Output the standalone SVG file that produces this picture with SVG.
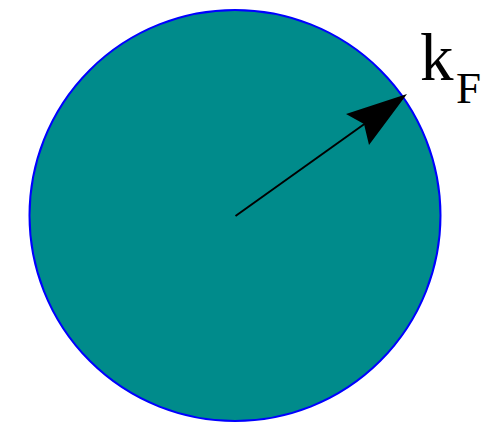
<svg xmlns="http://www.w3.org/2000/svg" width="493" height="423" viewBox="0 0 493 423">
<style>
.lbl{font-family:"Liberation Serif","Times New Roman",serif;fill:#000}
</style>
<rect width="493" height="423" fill="#fff"/>
<g id="sphere">
<circle cx="235" cy="215.5" r="205.5" fill="#008b8b" stroke="#0000ff" stroke-width="2"/>
</g>
<g id="connectors">
<line x1="235.5" y1="216" x2="370" y2="120" stroke="#000" stroke-width="2"/>
<polygon points="407,94 346,114 364,124 369,145" fill="#000"/>
</g>
<g id="label">
<text class="lbl" x="420" y="80" font-size="67">k</text>
<text class="lbl" x="456" y="103" font-size="45">F</text>
</g>
</svg>
